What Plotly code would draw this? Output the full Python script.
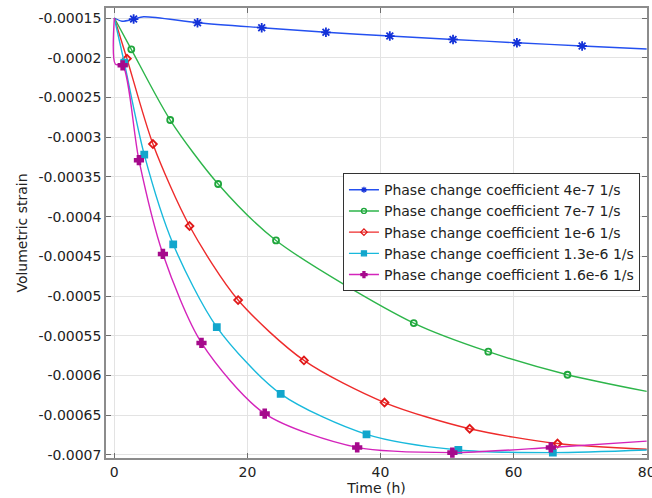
import plotly.graph_objects as go

# Time axis (h) and volumetric strain for each phase change coefficient
labels = [
    "Phase change coefficient 4e-7 1/s",
    "Phase change coefficient 7e-7 1/s",
    "Phase change coefficient 1e-6 1/s",
    "Phase change coefficient 1.3e-6 1/s",
    "Phase change coefficient 1.6e-6 1/s",
]

t_4e7 = [0, 1.15, 2.9, 4.4, 12.5, 22.15, 31.8, 41.4, 50.9, 60.5, 70.3, 80]
v_4e7 = [-0.00015, -0.000154, -0.0001513, -0.0001484, -0.0001559, -0.0001622,
         -0.000168, -0.0001727, -0.000177, -0.0001812, -0.0001852, -0.000189]

t_7e7 = [0, 2.55, 8.4, 15.6, 24.3, 45.0, 56.2, 68.1, 80]
v_7e7 = [-0.00015, -0.0001894, -0.0002784, -0.0003589, -0.00043, -0.000534,
         -0.00057, -0.000599, -0.00062]

t_1e6 = [0, 1.9, 5.8, 11.3, 18.6, 28.5, 40.6, 53.4, 66.6, 80]
v_1e6 = [-0.00015, -0.0002012, -0.0003086, -0.0004118, -0.000505, -0.000581,
         -0.000634, -0.000667, -0.0006856, -0.0006928]

t_13e6 = [0, 1.5, 4.5, 8.85, 15.4, 25.0, 37.9, 51.7, 65.9, 80]
v_13e6 = [-0.00015, -0.0002063, -0.000322, -0.0004348, -0.000539, -0.000623,
          -0.000674, -0.0006937, -0.000697, -0.0006937]

t_16e6 = [0, 0.15, 1.25, 3.7, 7.3, 13.1, 22.6, 36.5, 50.8, 65.6, 80]
v_16e6 = [-0.00015, -0.000208, -0.0002095, -0.000329, -0.000447, -0.000559,
          -0.000648, -0.0006905, -0.000697, -0.0006905, -0.0006826]

# indices of points that carry a marker
mk_4e7 = [2, 4, 5, 6, 7, 8, 9, 10]
mk_7e7 = [1, 2, 3, 4, 5, 6, 7]
mk_1e6 = [1, 2, 3, 4, 5, 6, 7, 8]
mk_13e6 = [1, 2, 3, 4, 5, 6, 7, 8]
mk_16e6 = [2, 3, 4, 5, 6, 7, 8, 9]

y_ticks = [-0.00015, -0.0002, -0.00025, -0.0003, -0.00035, -0.0004, -0.00045,
           -0.0005, -0.00055, -0.0006, -0.00065, -0.0007]
y_tick_text = ["-0.00015", "-0.0002", "-0.00025", "-0.0003", "-0.00035", "-0.0004",
               "-0.00045", "-0.0005", "-0.00055", "-0.0006", "-0.00065", "-0.0007"]
x_ticks = [0, 20, 40, 60, 80]

series = [
    (t_4e7, v_4e7, mk_4e7, "#2450f0", "#1432d8", "asterisk-open", 8),
    (t_7e7, v_7e7, mk_7e7, "#2db54a", "#1fa63c", "circle-open", 6),
    (t_1e6, v_1e6, mk_1e6, "#ee2b2b", "#e01818", "diamond-open", 6),
    (t_13e6, v_13e6, mk_13e6, "#18b9dc", "#12a6cc", "square", 6),
    (t_16e6, v_16e6, mk_16e6, "#d424bb", "#a60a8c", "cross", 7),
]

FONT = "DejaVu Sans"
fig = go.Figure()

for name, (tx, vy, mk, lc, mc, sym, ms) in zip(labels, series):
    fig.add_trace(go.Scatter(
        x=tx, y=vy, mode="lines", line=dict(color=lc, width=1.4, shape="spline", smoothing=0.8),
        legendgroup=name, showlegend=False, hoverinfo="skip"))
    fig.add_trace(go.Scatter(
        x=[tx[i] for i in mk], y=[vy[i] for i in mk], mode="markers",
        marker=dict(symbol=sym, size=ms, color=mc, line=dict(color=mc, width=1.8)),
        legendgroup=name, showlegend=False))
    # legend entry
    fig.add_trace(go.Scatter(
        x=[None], y=[None], mode="lines+markers", name=name, legendgroup=name,
        line=dict(color=lc, width=1.4),
        marker=dict(symbol=sym, size=5, color=mc, line=dict(color=mc, width=1.3))))

axis_common = dict(
    showline=True, linecolor="#8c8c8c", linewidth=1.5, mirror="ticks",
    ticks="inside", ticklen=5, tickcolor="#6e6e6e", tickwidth=1.2,
    showgrid=True, gridcolor="#e3e3e3", gridwidth=1, zeroline=False,
    tickfont=dict(family=FONT, size=14, color="#222222"),
    ticklabeloverflow="allow", automargin=False,
)

fig.update_layout(
    width=652, height=498,
    margin=dict(l=106, r=5, t=8, b=40, autoexpand=False),
    paper_bgcolor="white", plot_bgcolor="white",
    font=dict(family=FONT, size=14, color="#222222"),
    xaxis=dict(range=[-1.25, 80.05], tickvals=x_ticks, ticktext=[str(v) for v in x_ticks],
               title=dict(text="Time (h)", font=dict(family=FONT, size=14), standoff=2),
               **axis_common),
    yaxis=dict(range=[-0.0007038, -0.0001374], tickvals=y_ticks, ticktext=y_tick_text,
               title=dict(text="Volumetric strain", font=dict(family=FONT, size=14), standoff=8),
               **axis_common),
    legend=dict(x=0.438, y=0.633, xanchor="left", yanchor="top",
                bgcolor="white", bordercolor="#333333", borderwidth=1,
                font=dict(family=FONT, size=14, color="#222222"),
                tracegroupgap=0, itemwidth=30),
    showlegend=True,
)

fig.write_html("out.html")
